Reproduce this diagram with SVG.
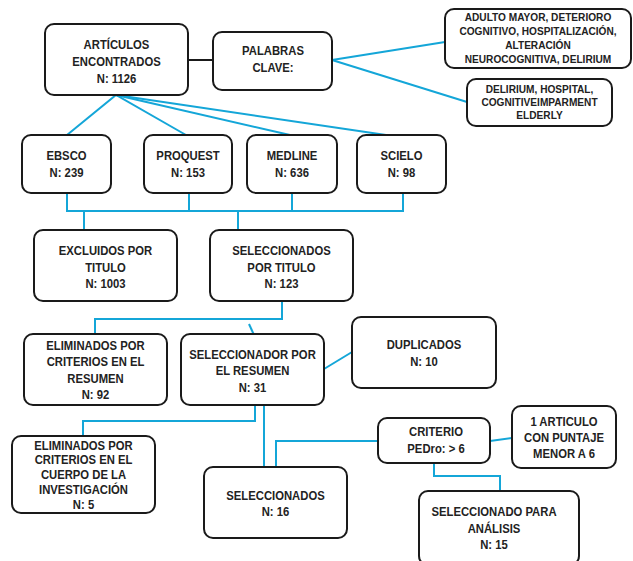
<svg xmlns="http://www.w3.org/2000/svg" width="633" height="561" viewBox="0 0 633 561">
<style>
.box{fill:#fff;stroke:#1a1a1a;stroke-width:2}
.t{font-family:"Liberation Sans",Arial,sans-serif;font-weight:bold;font-size:13.6px;fill:#222;text-anchor:middle}
.s{font-size:11.5px}
.c{fill:none;stroke:#14a6d8;stroke-width:2}
.k{fill:none;stroke:#1a1a1a;stroke-width:2}
</style>
<rect width="633" height="561" fill="#fff"/>
<g id="connectors">
<line class="k" x1="188" y1="60" x2="213" y2="60"/>
<polyline class="c" points="67,135 116,95 186,135"/>
<line class="c" x1="116" y1="95" x2="290" y2="135"/>
<line class="c" x1="116" y1="95" x2="386" y2="135"/>
<line class="c" x1="332" y1="60" x2="445" y2="42"/>
<line class="c" x1="332" y1="60" x2="467" y2="102"/>
<polyline class="c" points="67,193 67,211 403,211 403,193"/>
<line class="c" x1="189" y1="193" x2="189" y2="211"/>
<line class="c" x1="292" y1="193" x2="292" y2="211"/>
<line class="c" x1="84" y1="211" x2="84" y2="230"/>
<line class="c" x1="238" y1="211" x2="238" y2="230"/>
<polyline class="c" points="282,301 282,319 95,319 95,334"/>
<line class="c" x1="249" y1="324" x2="254" y2="335"/>
<line class="c" x1="324" y1="369" x2="352" y2="352"/>
<polyline class="c" points="255,405 255,421 83,421 83,436"/>
<line class="c" x1="264" y1="405" x2="264" y2="467"/>
<polyline class="c" points="378,441 276,441 276,467"/>
<line class="c" x1="490" y1="441" x2="512" y2="438"/>
<polyline class="c" points="434,463 434,476 500,476 500,491"/>
</g>
<g id="articulos"><rect class="box" x="45" y="24" width="143" height="71" rx="9"/>
<g transform="translate(116.5 0) scale(0.83 1)"><text class="t" x="0" y="49">ARTÍCULOS</text><text class="t" x="0" y="66">ENCONTRADOS</text><text class="t" x="0" y="83">N: 1126</text></g></g>
<g id="palabras"><rect class="box" x="213" y="32" width="119" height="58" rx="9"/>
<g transform="translate(273 0) scale(0.83 1)"><text class="t" x="0" y="55">PALABRAS</text><text class="t" x="0" y="72">CLAVE:</text></g></g>
<g id="claves-es"><rect class="box" x="445" y="9" width="186" height="59" rx="9"/>
<g transform="translate(538 0) scale(0.88 1)"><text class="t s" x="0" y="21">ADULTO MAYOR, DETERIORO</text><text class="t s" x="0" y="35">COGNITIVO, HOSPITALIZACIÓN,</text><text class="t s" x="0" y="49">ALTERACIÓN</text><text class="t s" x="0" y="63">NEUROCOGNITIVA, DELIRIUM</text></g></g>
<g id="claves-en"><rect class="box" x="467" y="79" width="145" height="47" rx="9"/>
<g transform="translate(539.5 0) scale(0.88 1)"><text class="t s" x="0" y="93">DELIRIUM, HOSPITAL,</text><text class="t s" x="0" y="106">COGNITIVEIMPARMENT</text><text class="t s" x="0" y="119">ELDERLY</text></g></g>
<g id="ebsco"><rect class="box" x="22" y="135" width="89" height="58" rx="9"/>
<g transform="translate(66.5 0) scale(0.83 1)"><text class="t" x="0" y="160">EBSCO</text><text class="t" x="0" y="177">N: 239</text></g></g>
<g id="proquest"><rect class="box" x="144" y="135" width="88" height="58" rx="9"/>
<g transform="translate(188 0) scale(0.83 1)"><text class="t" x="0" y="160">PROQUEST</text><text class="t" x="0" y="177">N: 153</text></g></g>
<g id="medline"><rect class="box" x="247" y="135" width="90" height="58" rx="9"/>
<g transform="translate(292 0) scale(0.83 1)"><text class="t" x="0" y="160">MEDLINE</text><text class="t" x="0" y="177">N: 636</text></g></g>
<g id="scielo"><rect class="box" x="357" y="135" width="89" height="58" rx="9"/>
<g transform="translate(401.5 0) scale(0.83 1)"><text class="t" x="0" y="160">SCIELO</text><text class="t" x="0" y="177">N: 98</text></g></g>
<g id="excluidos"><rect class="box" x="34" y="230" width="143" height="71" rx="9"/>
<g transform="translate(105.5 0) scale(0.83 1)"><text class="t" x="0" y="255">EXCLUIDOS POR</text><text class="t" x="0" y="272">TITULO</text><text class="t" x="0" y="288">N: 1003</text></g></g>
<g id="sel-titulo"><rect class="box" x="210" y="230" width="143" height="71" rx="9"/>
<g transform="translate(281.5 0) scale(0.83 1)"><text class="t" x="0" y="255">SELECCIONADOS</text><text class="t" x="0" y="272">POR TITULO</text><text class="t" x="0" y="288">N: 123</text></g></g>
<g id="elim-resumen"><rect class="box" x="24" y="334" width="143" height="71" rx="9"/>
<g transform="translate(95.5 0) scale(0.83 1)"><text class="t" x="0" y="350">ELIMINADOS POR</text><text class="t" x="0" y="366.5">CRITERIOS EN EL</text><text class="t" x="0" y="383">RESUMEN</text><text class="t" x="0" y="399">N: 92</text></g></g>
<g id="sel-resumen"><rect class="box" x="181" y="334" width="143" height="71" rx="9"/>
<g transform="translate(252.5 0) scale(0.83 1)"><text class="t" x="0" y="359">SELECCIONADOR POR</text><text class="t" x="0" y="375.5">EL RESUMEN</text><text class="t" x="0" y="392">N: 31</text></g></g>
<g id="duplicados"><rect class="box" x="352" y="317" width="144" height="71" rx="9"/>
<g transform="translate(424 0) scale(0.83 1)"><text class="t" x="0" y="349">DUPLICADOS</text><text class="t" x="0" y="366">N: 10</text></g></g>
<g id="elim-cuerpo"><rect class="box" x="12" y="436" width="143" height="77" rx="9"/>
<g transform="translate(83.5 0) scale(0.83 1)"><text class="t" x="0" y="450">ELIMINADOS POR</text><text class="t" x="0" y="464.5">CRITERIOS EN EL</text><text class="t" x="0" y="479.5">CUERPO DE LA</text><text class="t" x="0" y="494.5">INVESTIGACIÓN</text><text class="t" x="0" y="509.5">N: 5</text></g></g>
<g id="seleccionados"><rect class="box" x="204" y="467" width="143" height="71" rx="9"/>
<g transform="translate(275.5 0) scale(0.83 1)"><text class="t" x="0" y="500.5">SELECCIONADOS</text><text class="t" x="0" y="516.5">N: 16</text></g></g>
<g id="criterio"><rect class="box" x="378" y="418" width="112" height="45" rx="9"/>
<g transform="translate(436 0) scale(0.83 1)"><text class="t" x="0" y="436.5">CRITERIO</text><text class="t" x="0" y="453">PEDro: &gt; 6</text></g></g>
<g id="puntaje"><rect class="box" x="512" y="406" width="104" height="62" rx="9"/>
<g transform="translate(564 0) scale(0.83 1)"><text class="t" x="0" y="426.5">1 ARTICULO</text><text class="t" x="0" y="442.5">CON PUNTAJE</text><text class="t" x="0" y="458.5">MENOR A 6</text></g></g>
<g id="analisis"><rect class="box" x="419" y="491" width="160" height="74" rx="9"/>
<g transform="translate(494 0) scale(0.83 1)"><text class="t" x="0" y="516.5">SELECCIONADO PARA</text><text class="t" x="0" y="533">ANÁLISIS</text><text class="t" x="0" y="549">N: 15</text></g></g>
</svg>
